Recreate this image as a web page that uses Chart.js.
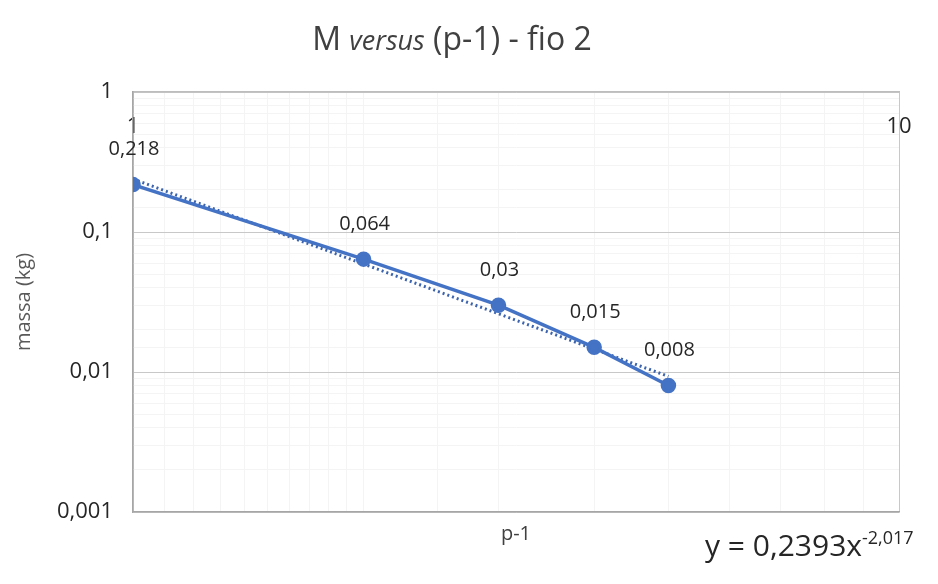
<!DOCTYPE html>
<html>
<head>
<meta charset="utf-8">
<script src="https://cdn.jsdelivr.net/npm/chart.js@4"></script>
<style>
  body { margin: 0; background: #fff; }
  #wrap { position: relative; width: 938px; height: 584px; font-family: "Open Sans", sans-serif; }
  #titulo { position: absolute; top: 22px; left: 0; width: 904px; text-align: center; font-size: 32px; line-height: 32px; color: #404040; }
  #equacao { position: absolute; left: 705px; top: 530px; font-size: 30px; line-height: 30px; color: #262626; white-space: nowrap; }
  #equacao sup { font-size: 18px; line-height: 0; vertical-align: 12px; }
</style>
</head>
<body>
<div id="wrap">
  <canvas id="grafico" width="938" height="584"></canvas>
  <div id="titulo">M <i style="font-size:27px">versus</i> (p-1) - fio 2</div>
  <div id="equacao">y = 0,2393x<sup>-2,017</sup></div>
</div>
<script>
// dados
const pMenos1 = [1, 2, 3, 4, 5];
const massa = [0.218, 0.064, 0.03, 0.015, 0.008];
// linha de tendencia (potencia), pontos das extremidades
const tendX = [1, 5];
const tendY = [0.239, 0.0093];
const yTicks = [1, 0.1, 0.01, 0.001];
const xTicks = [1, 10];

const azul = '#4472C4';
const fonte = '"Open Sans", sans-serif';

function virgula(v) {
    return String(v).replace('.', ',');
}
function ehPotencia(v) {
    const l = Math.log10(v);
    return Math.abs(l - Math.round(l)) < 1e-9;
}

const rotulos = {
    id: 'rotulos',
    afterDatasetsDraw(chart) {
        const ctx = chart.ctx;
        const meta = chart.getDatasetMeta(0);
        ctx.save();
        ctx.font = '20px ' + fonte;
        ctx.fillStyle = '#262626';
        ctx.textAlign = 'center';
        ctx.textBaseline = 'middle';
        meta.data.forEach(function(el, i) {
            ctx.fillText(virgula(massa[i]), el.x + 1, el.y - 35);
        });
        ctx.restore();
    }
};

const ctx = document.getElementById('grafico').getContext('2d');
new Chart(ctx, {
    type: 'line',
    data: {
        datasets: [{
            label: 'massa',
            data: pMenos1.map(function(x, i) { return {x: x, y: massa[i]}; }),
            borderColor: azul,
            backgroundColor: azul,
            borderWidth: 3.5,
            pointRadius: 6,
            pointHoverRadius: 6,
            tension: 0
        }, {
            label: 'tendencia',
            data: tendX.map(function(x, i) { return {x: x, y: tendY[i]}; }),
            borderColor: '#3c64ae',
            borderWidth: 3,
            borderDash: [2, 3],
            pointRadius: 0
        }]
    },
    options: {
        responsive: false,
        animation: false,
        layout: { padding: { top: 64, right: 39, bottom: 34, left: 4 } },
        plugins: {
            legend: { display: false },
            tooltip: { enabled: false }
        },
        scales: {
            x: {
                type: 'logarithmic',
                position: 'bottom',
                min: 1,
                max: 10,
                ticks: { display: false },
                afterFit: function(s) { s.height = 38; },
                grid: {
                    drawTicks: false,
                    color: function(c) { return ehPotencia(c.tick.value) ? '#c8c8c8' : '#f4f4f4'; },
                    lineWidth: 1
                },
                border: { color: '#a6a6a6', width: 1.5 },
                title: {
                    display: true,
                    text: 'p-1',
                    color: '#404040',
                    font: { family: fonte, size: 20 },
                    padding: { top: 10, bottom: 4 }
                }
            },
            x2: {
                type: 'logarithmic',
                position: 'top',
                min: 1,
                max: 10,
                afterFit: function(s) { s.height = 28; },
                grid: { display: false, drawTicks: false },
                border: { color: '#bdbdbd', width: 1.5 },
                ticks: {
                    mirror: true,
                    padding: 22,
                    autoSkip: false,
                    maxRotation: 0,
                    color: '#262626',
                    font: { family: fonte, size: 22 },
                    callback: function(v) { return xTicks.includes(v) ? String(v) : ''; }
                }
            },
            y: {
                type: 'logarithmic',
                min: 0.001,
                max: 1,
                afterFit: function(s) { s.width = 129; },
                afterBuildTicks: function(s) {
                    s.ticks = s.ticks.filter(function(t) { return t.value >= 0.001 && t.value <= 1; });
                },
                ticks: {
                    padding: 20,
                    autoSkip: false,
                    color: '#262626',
                    font: { family: fonte, size: 22 },
                    callback: function(v) { return yTicks.includes(v) ? virgula(v) : ''; }
                },
                grid: {
                    drawTicks: false,
                    color: function(c) { return ehPotencia(c.tick.value) ? '#c8c8c8' : '#f4f4f4'; }
                },
                border: { color: '#a6a6a6', width: 1.5 },
                title: {
                    display: true,
                    text: 'massa (kg)',
                    color: '#595959',
                    font: { family: fonte, size: 20 },
                    padding: { top: 8, bottom: 0 }
                }
            }
        }
    },
    plugins: [rotulos]
});
</script>
</body>
</html>
